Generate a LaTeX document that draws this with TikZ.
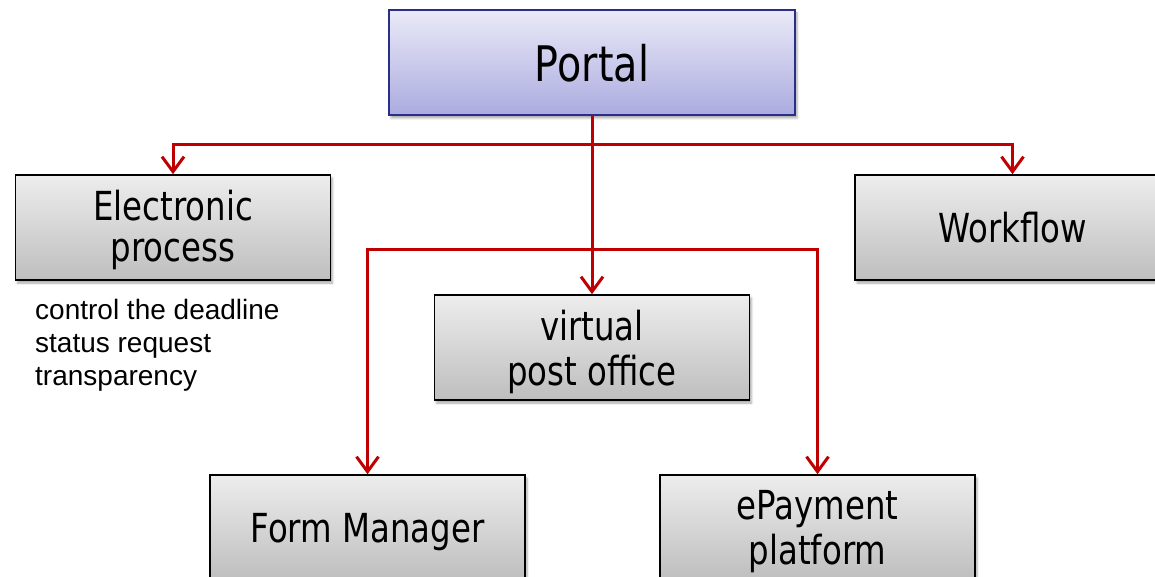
\documentclass[tikz,border=0pt]{standalone}
\usepackage{fontspec}
\setmainfont{DejaVu Sans}[FakeStretch=0.81]
\newfontfamily\notefont{Liberation Sans}
\usetikzlibrary{arrows.meta,shadows.blur}

\definecolor{linkred}{HTML}{C00000}
\definecolor{portaltop}{HTML}{EAEAF8}
\definecolor{portalbot}{HTML}{ABABE0}
\definecolor{portaledge}{HTML}{2B2E88}
\definecolor{boxtop}{HTML}{EDEDED}
\definecolor{boxbot}{HTML}{BEBEBE}

% box label: stacked lines, drawn a little below centre while keeping
% the natural size for centring
\newcommand\boxlabel[2][5.5pt]{%
  \raisebox{-#1}[\height][\depth]{\begin{tabular}{@{}c@{}}#2\end{tabular}}}

\begin{document}
\begin{tikzpicture}[x=1pt,y=-1pt,
  boxbase/.style={rectangle, minimum width=315pt, minimum height=105pt,
    inner sep=0pt, line width=1.6pt,
    blur shadow={shadow xshift=2pt, shadow yshift=-3pt, shadow opacity=35}},
  graybox/.style={boxbase, draw=black, top color=boxtop, bottom color=boxbot,
    font=\fontsize{40}{45}\selectfont},
  portalbox/.style={boxbase, minimum width=406pt, minimum height=105pt,
    draw=portaledge, top color=portaltop, bottom color=portalbot,
    font=\fontsize{49}{52}\selectfont},
  link/.style={draw=linkred, line width=3pt},
  linkarrow/.style={link, -{Straight Barb[length=15pt,width=22pt]}},
]
\clip (0,0) rectangle (1155,577);
\useasboundingbox (0,0) rectangle (1155,577);

% boxes
\node[portalbox] (portal) at (592,62.5) {\boxlabel[8.6pt]{Portal}};
\node[graybox, font=\fontsize{40}{41}\selectfont] (elec) at (173,227.5)
  {\boxlabel[4.3pt]{Electronic\\process}};
\node[graybox] (work) at (1012.5,227.5) {\boxlabel{Workflow}};
\node[graybox] (post) at (592,347.5) {\boxlabel[6pt]{virtual\\post office}};
\node[graybox] (form) at (367.5,527.5) {\boxlabel{Form Manager}};
\node[graybox] (pay) at (817.5,527.5) {\boxlabel{ePayment\\platform}};

% notes under the electronic process box
\node[anchor=north west, inner sep=0pt, align=left,
      font=\notefont\fontsize{28}{33}\selectfont] (notes) at (35,299)
  {control the deadline\\status request\\transparency};

% connectors
\coordinate (upper) at (592,145);
\coordinate (lower) at (592,249);
\draw[link] (portal.south) -- (upper);
\draw[linkarrow] (upper) -| (elec.north);
\draw[linkarrow] (upper) -| (work.north);
\draw[linkarrow] (upper) -- (post.north);
\draw[linkarrow] (lower) -| (form.north);
\draw[linkarrow] (lower) -| (pay.north);
\end{tikzpicture}
\end{document}
